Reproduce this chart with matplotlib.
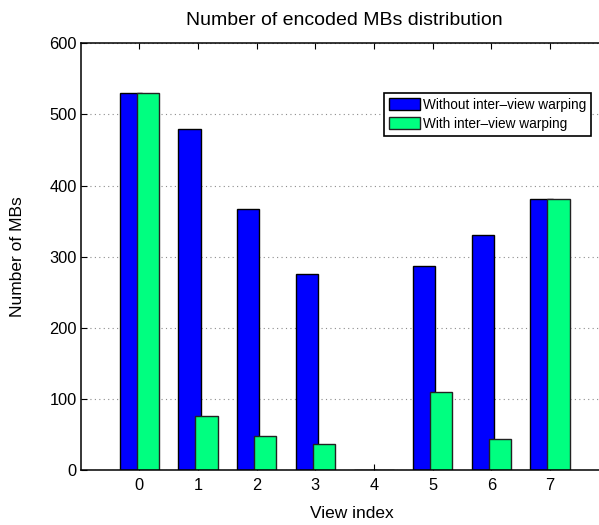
import matplotlib
matplotlib.use("Agg")
import matplotlib.pyplot as plt
import numpy as np

plt.rcParams['font.family'] = ['Liberation Sans', 'DejaVu Sans']

views = [0, 1, 2, 3, 4, 5, 6, 7]
without_warping = [530, 480, 367, 275, 0, 287, 330, 381]
with_warping = [530, 76, 48, 37, 0, 110, 44, 381]
series_labels = ['Without inter–view warping', 'With inter–view warping']
title = 'Number of encoded MBs distribution'
xlabel = 'View index'
ylabel = 'Number of MBs'

fig = plt.figure(figsize=(5.99, 5.25), dpi=100)
ax = fig.add_axes([0.1347, 0.1048, 0.8813, 0.8127])

x = np.array(views, dtype=float)
w = 0.38
off = 0.145
ax.bar(x - off, without_warping, width=w, color='#0000ff', edgecolor='black',
       linewidth=1.0, label=series_labels[0], zorder=3)
ax.bar(x + off, with_warping, width=w, color='#00ff80', edgecolor='#222222',
       linewidth=1.0, label=series_labels[1], zorder=4)

ax.set_xlim(-1, 8)
ax.set_ylim(0, 600)
ax.set_xticks(views)
ax.set_yticks(np.arange(0, 601, 100))
ax.yaxis.grid(True, linestyle=(0, (1, 3)), color='0.55', linewidth=0.8, zorder=0)
ax.set_axisbelow(True)
ax.tick_params(direction='in', length=4, width=0.8, top=True, right=True,
               labelsize=11.8)
ax.tick_params(axis='x', pad=6)
ax.tick_params(axis='y', pad=3)
for s in ax.spines.values():
    s.set_linewidth(1.1)
    s.set_zorder(5)

ax.set_title(title, fontsize=14, pad=13)
ax.set_xlabel(xlabel, fontsize=12.5, labelpad=11)
ax.xaxis.set_label_coords(0.514, -0.085)
ax.set_ylabel(ylabel, fontsize=12.5)
ax.yaxis.set_label_coords(-0.105, 0.5)

leg = ax.legend(loc='upper left', bbox_to_anchor=((384.3 - 80.7) / 528, (470 - 93.3) / 426.7),
                fontsize=9.8, frameon=True, fancybox=False, framealpha=1,
                handlelength=2.25, handleheight=0.98, handletextpad=0.27,
                borderpad=0.35, labelspacing=0.35, borderaxespad=0)
leg.get_frame().set_edgecolor('black')
leg.get_frame().set_linewidth(1.2)

fig.savefig('out.png', dpi=100)
